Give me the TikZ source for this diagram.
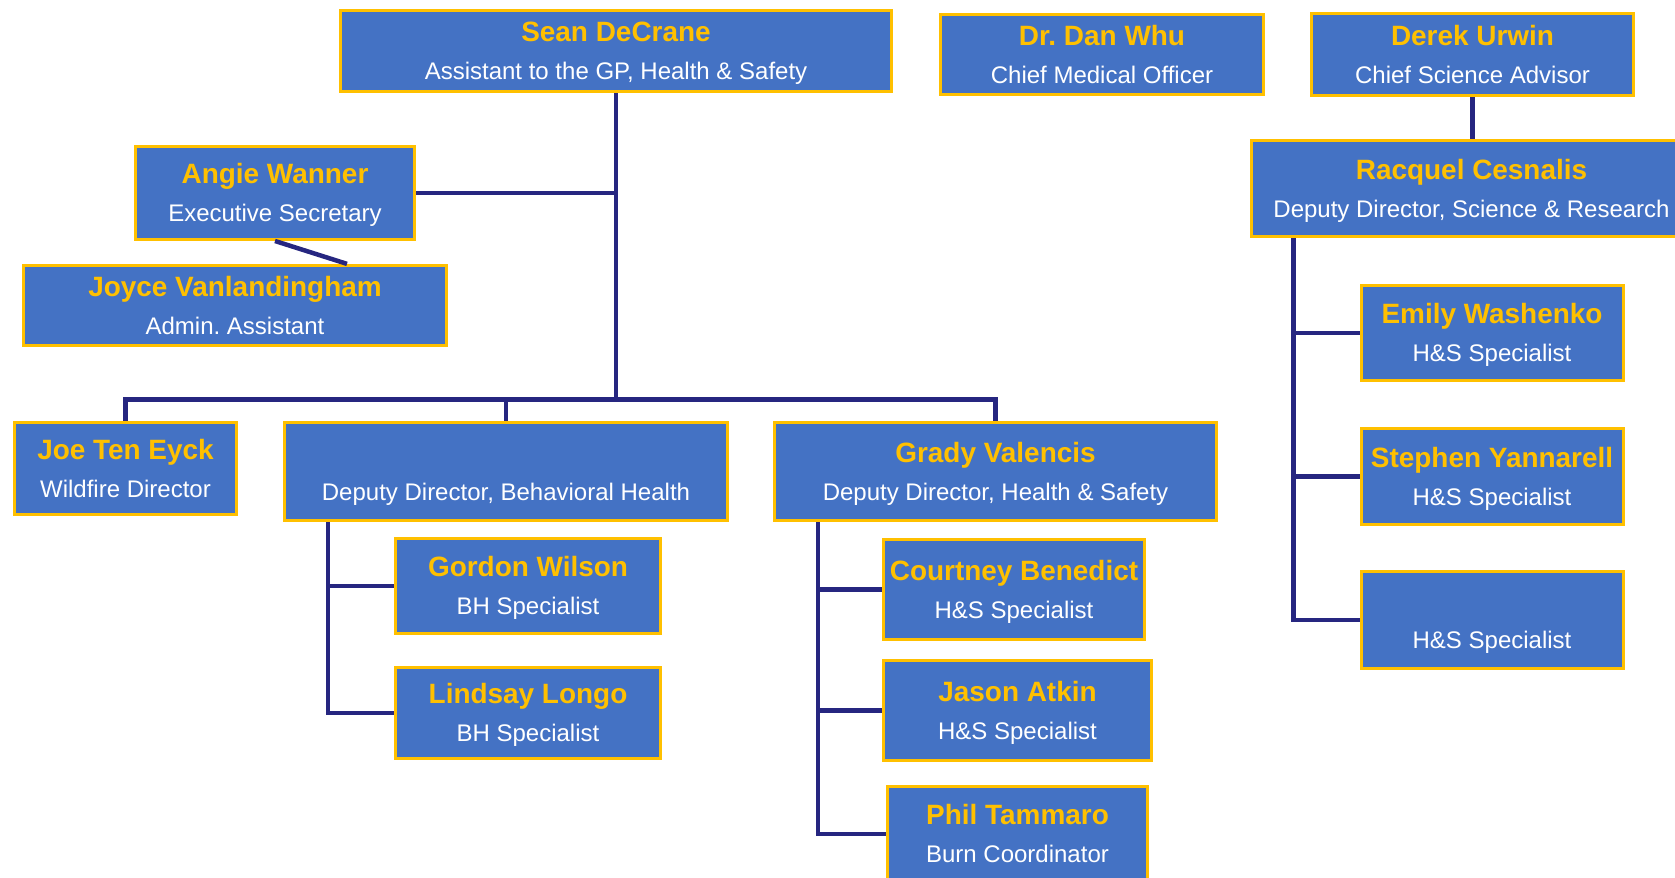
\documentclass[tikz,border=0pt]{standalone}
\usepackage{fontspec}
\setmainfont{Liberation Sans}
\usepackage{tikz}
\usetikzlibrary{positioning}
\usepackage{xcolor}
\definecolor{boxblue}{HTML}{4472C4}
\definecolor{gold}{HTML}{FFC000}
\definecolor{navy}{HTML}{262680}
\frenchspacing
\newcommand{\staff}[2]{{\fontsize{15.9pt}{21.6pt}\selectfont\bfseries\color{gold}\rule{0pt}{17.6pt}#1}\\#2\strut}
\tikzset{%
	every post/.style={
		rectangle,
		draw=gold,
		line width=0.06cm,
		fill=boxblue,
		text=white,
		inner sep=0pt,
		align=center,
		font=\fontsize{13.66pt}{21.6pt}\selectfont\frenchspacing
	},
	post/.style 2 args={
		every post,
		minimum width=#1,
		minimum height=#2
	},
	link/.style={
		draw=navy,
		line width=0.09cm
	},
}

\begin{document}
\begin{tikzpicture}[x=0.02cm, y=-0.02cm]
	\useasboundingbox (0,0) rectangle (1675,878);
	
	% Top row
	\node[post={11.04cm}{1.64cm}] (sean) at (616,51) {\staff{Sean DeCrane}{Assistant to the GP, Health \& Safety}};
	\node[post={6.48cm}{1.62cm}] (dan) at (1102,54.5) {\staff{Dr. Dan Whu}{Chief Medical Officer}};
	\node[post={6.44cm}{1.66cm}] (derek) at (1472.5,54.5) {\staff{Derek Urwin}{Chief Science Advisor}};
	\node[post={8.82cm}{1.94cm}] (racquel) at (1471.5,188.5) {\staff{Racquel Cesnalis}{Deputy Director, Science \& Research}};
	\node[post={5.58cm}{1.86cm}] (angie) at (275,193) {\staff{Angie Wanner}{Executive Secretary}};
	\node[post={8.46cm}{1.58cm}] (joyce) at (235,305.5) {\staff{Joyce Vanlandingham}{Admin. Assistant}};
	
	% Directors
	\node[post={4.46cm}{1.86cm}] (joe) at (125.5,468.5) {\staff{Joe Ten Eyck}{Wildfire Director}};
	\node[post={8.86cm}{1.98cm}] (bh) at (506,471.5) {\staff{}{Deputy Director, Behavioral Health}};
	\node[post={8.84cm}{1.98cm}] (grady) at (995.5,471.5) {\staff{Grady Valencis}{Deputy Director, Health \& Safety}};
	
	% Specialists
	\node[post={5.30cm}{1.90cm}] (gordon) at (528,586) {\staff{Gordon Wilson}{BH Specialist}};
	\node[post={5.32cm}{1.82cm}] (lindsay) at (528,713) {\staff{Lindsay Longo}{BH Specialist}};
	\node[post={5.22cm}{2.00cm}] (courtney) at (1014,589.5) {\staff{Courtney Benedict}{H\&S Specialist}};
	\node[post={5.36cm}{2.00cm}] (jason) at (1017.5,710.5) {\staff{Jason Atkin}{H\&S Specialist}};
	\node[post={5.20cm}{1.92cm}] (phil) at (1017.5,834) {\staff{Phil Tammaro}{Burn Coordinator}};
	\node[post={5.24cm}{1.92cm}] (emily) at (1492,333) {\staff{Emily Washenko}{H\&S Specialist}};
	\node[post={5.24cm}{1.92cm}] (stephen) at (1492,476.5) {\staff{Stephen Yannarell}{H\&S Specialist}};
	\node[post={5.24cm}{1.94cm}] (hsvacant) at (1492,620) {\staff{}{H\&S Specialist}};
	
	% Connectors
	\coordinate (bus) at (616,399.5);
	\draw[link] (sean.south) -- (bus);
	\draw[link] (joe.north) -- (joe.north |- bus) -- (grady.north |- bus) -- (grady.north);
	\draw[link] (bh.north |- bus) -- (bh.north);
	\draw[link] (angie.east) -- (angie.east -| bus);
	\draw[link] (angie.south) -- ([xshift=2.24cm]joyce.north);
	\draw[link] (derek.south) -- (derek.south |- racquel.north);
	\foreach \n in {gordon,lindsay}
		\draw[link] ([xshift=0.9cm]bh.south west) |- (\n.west);
	\foreach \n in {courtney,jason,phil}
		\draw[link] ([xshift=0.9cm]grady.south west) |- (\n.west);
	\foreach \n in {emily,stephen,hsvacant}
		\draw[link] ([xshift=0.88cm]racquel.south west) |- (\n.west);
	
\end{tikzpicture}
\end{document}
